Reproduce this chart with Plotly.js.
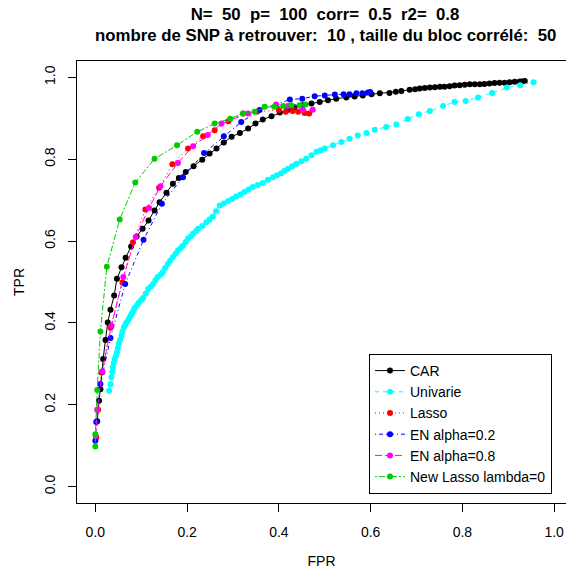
<!DOCTYPE html>
<html>
<head>
<meta charset="utf-8">
<script src="https://cdn.plot.ly/plotly-3.0.1.min.js"></script>
<style>html,body{margin:0;padding:0;background:#fff;}</style>
</head>
<body>
<div id="chart" style="width:566px;height:576px;"></div>
<script>
// ---- data ----
var seriesNames = ["CAR", "Univarie", "Lasso", "EN alpha=0.2", "EN alpha=0.8", "New Lasso lambda=0"];

var car_fpr = [0.004,0.008,0.011,0.015,0.017,0.022,0.027,0.033,0.041,0.047,0.057,0.066,0.078,0.090,0.103,0.116,0.129,0.140,0.155,0.169,0.182,0.197,0.214,0.233,0.249,0.264,0.280,0.297,0.315,0.333,0.349,0.365,0.384,0.402,0.420,0.434,0.452,0.471,0.489,0.507,0.525,0.547,0.565,0.583,0.602,0.620,0.641,0.655,0.667,0.685,0.697,0.707,0.718,0.729,0.740,0.751,0.761,0.772,0.783,0.794,0.805,0.816,0.827,0.838,0.848,0.859,0.870,0.881,0.892,0.903,0.914,0.925,0.930,0.936];
var car_tpr = [0.160,0.210,0.238,0.280,0.312,0.358,0.401,0.432,0.467,0.508,0.536,0.559,0.587,0.611,0.630,0.650,0.675,0.695,0.718,0.740,0.754,0.769,0.783,0.799,0.814,0.826,0.841,0.855,0.864,0.875,0.887,0.897,0.905,0.914,0.921,0.927,0.932,0.936,0.940,0.944,0.948,0.951,0.953,0.956,0.959,0.961,0.962,0.965,0.967,0.970,0.971,0.973,0.974,0.975,0.976,0.977,0.977,0.978,0.980,0.981,0.982,0.983,0.983,0.983,0.984,0.985,0.986,0.987,0.987,0.988,0.989,0.990,0.990,0.991];

var uni_fpr = [0.030,0.033,0.035,0.037,0.038,0.040,0.042,0.045,0.047,0.049,0.051,0.054,0.057,0.059,0.062,0.065,0.068,0.072,0.075,0.078,0.081,0.084,0.086,0.091,0.095,0.100,0.104,0.110,0.115,0.121,0.126,0.131,0.136,0.142,0.147,0.152,0.158,0.163,0.169,0.175,0.180,0.186,0.191,0.197,0.202,0.208,0.213,0.219,0.224,0.233,0.242,0.249,0.256,0.263,0.271,0.280,0.289,0.298,0.307,0.316,0.325,0.334,0.343,0.354,0.365,0.376,0.387,0.396,0.405,0.412,0.420,0.429,0.438,0.449,0.460,0.471,0.482,0.491,0.500,0.518,0.536,0.554,0.572,0.591,0.609,0.634,0.656,0.681,0.705,0.729,0.758,0.783,0.807,0.834,0.865,0.897,0.926,0.955];
var uni_tpr = [0.234,0.250,0.267,0.280,0.291,0.302,0.312,0.320,0.328,0.338,0.349,0.359,0.369,0.379,0.389,0.395,0.401,0.408,0.414,0.420,0.426,0.432,0.437,0.444,0.450,0.456,0.461,0.472,0.483,0.489,0.495,0.504,0.512,0.518,0.524,0.534,0.544,0.552,0.561,0.569,0.577,0.583,0.589,0.598,0.606,0.612,0.618,0.624,0.630,0.637,0.646,0.653,0.660,0.673,0.687,0.692,0.698,0.703,0.709,0.714,0.720,0.726,0.732,0.737,0.742,0.750,0.756,0.761,0.766,0.771,0.777,0.783,0.789,0.795,0.801,0.810,0.818,0.822,0.826,0.834,0.842,0.850,0.858,0.864,0.872,0.879,0.885,0.898,0.910,0.918,0.930,0.940,0.942,0.951,0.962,0.975,0.981,0.988];

var lasso_fpr = [0.002,0.006,0.013,0.033,0.059,0.082,0.109,0.139,0.168,0.202,0.235,0.260,0.290,0.322,0.352,0.400,0.415,0.430,0.442,0.456,0.466];
var lasso_tpr = [0.120,0.188,0.279,0.388,0.499,0.597,0.677,0.730,0.788,0.826,0.856,0.871,0.893,0.912,0.916,0.920,0.916,0.918,0.916,0.913,0.912];

var en02_fpr = [0.000,0.002,0.011,0.033,0.065,0.105,0.145,0.191,0.237,0.280,0.318,0.358,0.424,0.451,0.478,0.500,0.522,0.541,0.554,0.569,0.582,0.594,0.599];
var en02_tpr = [0.112,0.158,0.251,0.363,0.495,0.603,0.691,0.756,0.815,0.856,0.891,0.920,0.946,0.948,0.954,0.956,0.958,0.959,0.959,0.961,0.961,0.963,0.964];

var en08_fpr = [0.001,0.004,0.015,0.035,0.061,0.088,0.117,0.142,0.180,0.213,0.245,0.275,0.333,0.394,0.420,0.452,0.474];
var en08_tpr = [0.123,0.188,0.282,0.393,0.512,0.610,0.681,0.734,0.791,0.832,0.859,0.887,0.912,0.934,0.930,0.921,0.921];

var newl_fpr = [0.000,0.000,0.004,0.011,0.025,0.053,0.087,0.129,0.178,0.222,0.260,0.294,0.322,0.347,0.369,0.390,0.410,0.427,0.445,0.458];
var newl_tpr = [0.098,0.128,0.236,0.379,0.537,0.653,0.743,0.801,0.834,0.867,0.887,0.899,0.912,0.916,0.928,0.928,0.930,0.932,0.932,0.934];

var tickVals = [0, 0.2, 0.4, 0.6, 0.8, 1.0];
var tickText = ["0.0", "0.2", "0.4", "0.6", "0.8", "1.0"];

var titleLine1 = "N=  50  p=  100  corr=  0.5  r2=  0.8";
var titleLine2 = "nombre de SNP à retrouver:  10 , taille du bloc corrélé:  50";
var xLabel = "FPR";
var yLabel = "TPR";

// ---- styles ----
var colors = ["#000000", "#00FFFF", "#FF0000", "#0000FF", "#FF00FF", "#00CD00"];
var dashes = ["solid", "4px,4px", "1px,3px", "1px,3px,4px,3px", "7px,3px", "2px,2px,6px,2px"];
var xs = [car_fpr, uni_fpr, lasso_fpr, en02_fpr, en08_fpr, newl_fpr];
var ys = [car_tpr, uni_tpr, lasso_tpr, en02_tpr, en08_tpr, newl_tpr];

var FONT = "Liberation Sans, Arial, Helvetica, sans-serif";

var traces = seriesNames.map(function (name, i) {
  return {
    type: "scatter",
    mode: "lines+markers",
    name: name,
    x: xs[i],
    y: ys[i],
    line: { color: colors[i], width: 1, dash: dashes[i] },
    marker: { color: colors[i], size: 6, symbol: "circle" }
  };
});

var layout = {
  width: 566,
  height: 576,
  paper_bgcolor: "#ffffff",
  plot_bgcolor: "#ffffff",
  margin: { l: 77, r: 0, t: 61, b: 73, pad: 0 },
  font: { family: FONT, size: 14, color: "#000000" },
  showlegend: true,
  title: {
    text: titleLine1,
    font: { family: FONT, size: 16.8, weight: "bold", color: "#000000" },
    xref: "container", yref: "container",
    x: 325 / 566, xanchor: "center",
    y: 1 - 14 / 576, yanchor: "middle"
  },
  annotations: [{
    text: titleLine2,
    xref: "paper", yref: "paper",
    x: (325 - 77) / 489, xanchor: "center",
    y: (503 - 36) / 442, yanchor: "middle",
    showarrow: false,
    font: { family: FONT, size: 16.8, weight: "bold", color: "#000000" }
  }],
  xaxis: {
    range: [-0.04, -0.04 + 489 / 458.8],
    tickmode: "array", tickvals: tickVals, ticktext: tickText,
    ticks: "outside", ticklen: 8, tickwidth: 1, tickcolor: "#000000",
    ticklabelstandoff: 8,
    showline: true, linecolor: "#000000", linewidth: 1, mirror: true,
    showgrid: false, zeroline: false,
    tickfont: { family: FONT, size: 14, color: "#000000" },
    title: { text: xLabel, font: { family: FONT, size: 14, color: "#000000" }, standoff: 17 },
    automargin: false
  },
  yaxis: {
    range: [-0.04, 1.04],
    tickmode: "array", tickvals: tickVals, ticktext: tickText,
    ticks: "outside", ticklen: 8, tickwidth: 1, tickcolor: "#000000",
    tickangle: -90,
    ticklabelstandoff: 7,
    showline: true, linecolor: "#000000", linewidth: 1, mirror: false,
    showgrid: false, zeroline: false,
    tickfont: { family: FONT, size: 14, color: "#000000" },
    title: { text: yLabel, font: { family: FONT, size: 14, color: "#000000" }, standoff: 14 },
    automargin: false
  },
  legend: {
    x: (552 - 77) / 489, xanchor: "right",
    y: (503 - 424) / 442, yanchor: "middle",
    bgcolor: "#ffffff",
    bordercolor: "#000000",
    borderwidth: 1,
    font: { family: FONT, size: 14, color: "#000000" },
    tracegroupgap: 0
  }
};

Plotly.newPlot("chart", traces, layout, { displayModeBar: false, staticPlot: true });
</script>
</body>
</html>
